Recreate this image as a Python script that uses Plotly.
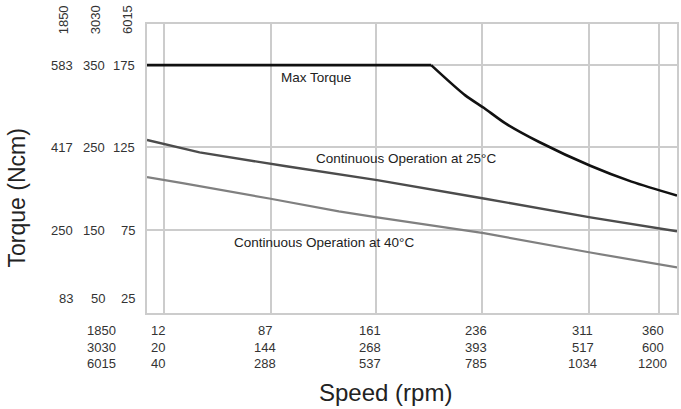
import plotly.graph_objects as go

# ---- data (1850 variant units: speed rpm, torque Ncm) ----
max_speed = [0, 200, 224, 237, 252, 276, 312, 341, 373]
max_torque = [583, 583, 522, 497, 466, 428, 380, 348, 320]

c25_speed = [0, 37, 98, 162, 237, 276, 312, 373]
c25_torque = [432, 407, 379, 351, 314, 294, 276, 248]

c40_speed = [0, 25, 86, 135, 162, 205, 237, 312, 373]
c40_torque = [357, 345, 314, 288, 276, 258, 244, 205, 175]

variants = ["1850", "3030", "6015"]
x_ticks = [12, 87, 161, 236, 311, 360]
x_labels = [
    ["12", "87", "161", "236", "311", "360"],
    ["20", "144", "268", "393", "517", "600"],
    ["40", "288", "537", "785", "1034", "1200"],
]
y_ticks = [583, 417, 250, 83]
y_labels = [
    ["583", "417", "250", "83"],
    ["350", "250", "150", "50"],
    ["175", "125", "75", "25"],
]

FONT = "Liberation Sans, Arial, sans-serif"
W, H = 681, 409
L, R, T, B = 147, 2, 24, 96
PW = W - L - R
PH = H - T - B

fig = go.Figure()
fig.add_trace(go.Scatter(x=c40_speed, y=c40_torque, mode="lines",
                         line=dict(color="#808080", width=2.2), hoverinfo="skip"))
fig.add_trace(go.Scatter(x=c25_speed, y=c25_torque, mode="lines",
                         line=dict(color="#4c4c4c", width=2.4), hoverinfo="skip"))
# flat part + smooth falling part
fig.add_trace(go.Scatter(x=max_speed[:2], y=max_torque[:2], mode="lines",
                         line=dict(color="#111111", width=2.6), hoverinfo="skip"))
fig.add_trace(go.Scatter(x=max_speed[1:], y=max_torque[1:], mode="lines",
                         line=dict(color="#111111", width=2.6, shape="spline",
                                   smoothing=0.8), hoverinfo="skip"))

ann = []
col_right_px = [75, 107, 137]
for ci, col in enumerate(y_labels):
    for ri, lab in enumerate(col):
        ann.append(dict(text=lab, xref="paper", yref="y",
                        x=(col_right_px[ci] - L) / PW, y=y_ticks[ri],
                        yshift=15 if ri == len(col) - 1 else 0,
                        xanchor="right", yanchor="middle", showarrow=False,
                        font=dict(family=FONT, size=13, color="#333")))
col_center_px = [63, 95, 127]
for ci, v in enumerate(variants):
    ann.append(dict(text=v, xref="paper", yref="paper",
                    x=(col_center_px[ci] - L) / PW, y=1 + (T - 20) / PH,
                    textangle=-90, xanchor="center", yanchor="middle",
                    showarrow=False, font=dict(family=FONT, size=13, color="#333")))
row_px = [330, 347, 363]
for ri, row in enumerate(x_labels):
    ann.append(dict(text=variants[ri], xref="paper", yref="paper",
                    x=(101 - L) / PW, y=(H - B - row_px[ri]) / PH,
                    xanchor="center", yanchor="middle", showarrow=False,
                    font=dict(family=FONT, size=13, color="#333")))
    for ti, lab in enumerate(row):
        ann.append(dict(text=lab, xref="x", yref="paper",
                        x=x_ticks[ti], xshift=-6, y=(H - B - row_px[ri]) / PH,
                        xanchor="center", yanchor="middle", showarrow=False,
                        font=dict(family=FONT, size=13, color="#333")))
ann.append(dict(text="Speed (rpm)", xref="paper", yref="paper",
                x=(386 - L) / PW, y=(H - B - 392) / PH, xanchor="center",
                yanchor="middle", showarrow=False,
                font=dict(family=FONT, size=24, color="#222")))
ann.append(dict(text="Torque (Ncm)", xref="paper", yref="paper",
                x=(17 - L) / PW, y=(H - B - 198) / PH, xanchor="center",
                yanchor="middle", textangle=-90, showarrow=False,
                font=dict(family=FONT, size=23, color="#222")))
for txt, xs, ys in [("Max Torque", 317, 77),
                    ("Continuous Operation at 25°C", 407, 158),
                    ("Continuous Operation at 40°C", 325, 242)]:
    ann.append(dict(text=txt, xref="paper", yref="paper",
                    x=(xs - L) / PW, y=(H - B - ys) / PH, xanchor="center",
                    yanchor="middle", showarrow=False,
                    font=dict(family=FONT, size=13.5, color="#222")))

fig.update_layout(
    width=W, height=H, margin=dict(l=L, r=R, t=T, b=B),
    paper_bgcolor="white", plot_bgcolor="white", showlegend=False,
    annotations=ann,
    xaxis=dict(range=[0, 373], tickvals=x_ticks, showticklabels=False,
               showgrid=True, gridcolor="#cccccc", gridwidth=1.5,
               showline=True, mirror=True, linecolor="#cccccc", linewidth=1.5,
               zeroline=False, ticks=""),
    yaxis=dict(range=[83, 666], tickvals=y_ticks[:3], showticklabels=False,
               showgrid=True, gridcolor="#cccccc", gridwidth=1.5,
               showline=True, mirror=True, linecolor="#cccccc", linewidth=1.5,
               zeroline=False, ticks=""),
)
fig.write_html("out.html")
